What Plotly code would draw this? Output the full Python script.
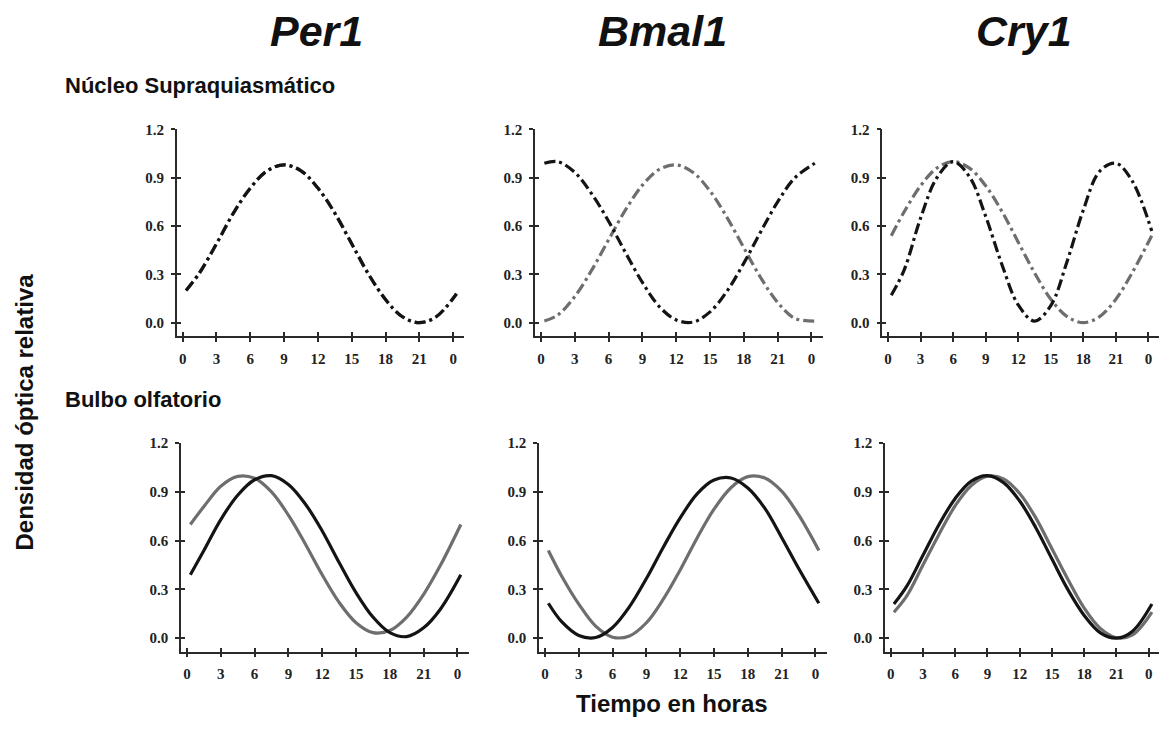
import plotly.graph_objects as go

# The page body adds an 8px margin around the figure; the figure is kept
# inside the page and every page position is shifted by that offset.
OFF = 8
W, H = 1157, 716
VISIBLE_RIGHT = 1160  # last page column that shows up in the photo


def fx(px):
    return (px - OFF) / W


def fy(py):
    return (H - (py - OFF)) / H


# ---------------- data ----------------
hours = [0.3, 1.5, 3, 4.5, 6, 7.5, 9, 10.5, 12, 13.5, 15, 16.5, 18, 19.5, 21, 22.5, 24.3]

genes = ["Per1", "Bmal1", "Cry1"]
row_labels = ["Núcleo Supraquiasmático", "Bulbo olfatorio"]

# Núcleo supraquiasmático (dash-dot lines)
per1_scn_black = [0.20, 0.31, 0.49, 0.68, 0.836, 0.943, 0.98, 0.943, 0.836, 0.68, 0.49, 0.30, 0.144, 0.037, 0.0, 0.037, 0.18]
per1_scn_gray = [0.20, 0.31, 0.49, 0.68, 0.836, 0.943, 0.98, 0.943, 0.836, 0.68, 0.49, 0.30, 0.144, 0.037, 0.0, 0.037, 0.18]
bmal1_scn_black = [0.99, 1.0, 0.933, 0.80, 0.63, 0.435, 0.25, 0.10, 0.017, 0.004, 0.067, 0.195, 0.37, 0.565, 0.75, 0.897, 0.99]
bmal1_scn_gray = [0.01, 0.048, 0.162, 0.326, 0.515, 0.70, 0.854, 0.952, 0.98, 0.932, 0.818, 0.654, 0.465, 0.279, 0.126, 0.028, 0.01]
cry1_scn_black = [0.17, 0.33, 0.65, 0.90, 1.0, 0.907, 0.66, 0.36, 0.11, 0.01, 0.106, 0.38, 0.70, 0.94, 0.99, 0.88, 0.57]
cry1_scn_gray = [0.54, 0.69, 0.85, 0.96, 1.0, 0.96, 0.85, 0.69, 0.50, 0.31, 0.146, 0.038, 0.0, 0.038, 0.146, 0.31, 0.54]

# Bulbo olfatorio (solid lines)
per1_ob_black = [0.39, 0.54, 0.73, 0.88, 0.975, 1.0, 0.946, 0.826, 0.66, 0.466, 0.28, 0.13, 0.034, 0.01, 0.064, 0.18, 0.39]
per1_ob_gray = [0.70, 0.81, 0.935, 0.996, 0.984, 0.90, 0.757, 0.58, 0.39, 0.22, 0.095, 0.034, 0.047, 0.13, 0.27, 0.45, 0.70]
bmal1_ob_black = [0.215, 0.10, 0.017, 0.004, 0.066, 0.194, 0.367, 0.56, 0.74, 0.888, 0.973, 0.986, 0.924, 0.80, 0.62, 0.43, 0.215]
bmal1_ob_gray = [0.54, 0.38, 0.21, 0.074, 0.006, 0.014, 0.095, 0.24, 0.42, 0.617, 0.794, 0.926, 0.994, 0.986, 0.905, 0.76, 0.54]
cry1_ob_black = [0.21, 0.32, 0.51, 0.70, 0.86, 0.967, 1.0, 0.957, 0.844, 0.68, 0.487, 0.297, 0.14, 0.033, 0.0, 0.043, 0.21]
cry1_ob_gray = [0.16, 0.26, 0.45, 0.64, 0.815, 0.94, 0.997, 0.98, 0.89, 0.74, 0.55, 0.36, 0.185, 0.06, 0.003, 0.02, 0.16]

y_tick_vals = [0.0, 0.3, 0.6, 0.9, 1.2]
x_tick_vals = [0, 3, 6, 9, 12, 15, 18, 21, 24]
x_tick_text = ["0", "3", "6", "9", "12", "15", "18", "21", "0"]

panels = [
    (per1_scn_black, per1_scn_gray, "dash"),
    (bmal1_scn_black, bmal1_scn_gray, "dash"),
    (cry1_scn_black, cry1_scn_gray, "dash"),
    (per1_ob_black, per1_ob_gray, "solid"),
    (bmal1_ob_black, bmal1_ob_gray, "solid"),
    (cry1_ob_black, cry1_ob_gray, "solid"),
]

# ---------------- layout geometry (page pixels) ----------------
x_start = -0.53
x_end_max = 25.0
top_y_range = [-0.085, 1.2]
bot_y_range = [-0.082, 1.2]
left_px = [176.7, 535.0, 882.3, 181.0, 539.0, 885.0]
px_per_h = [11.27, 11.27, 10.85, 11.27, 11.27, 10.75]
top_px = [(122.7, 332.0)] * 3 + [(440.0, 650.7)] * 3

BLACK = "#141414"
GRAY = "#6e6e6e"
AXIS = "#2a2a2a"
DASH = "11px,4px,3px,4px"
tick_font = dict(family="Liberation Serif, Times New Roman, serif", size=15, color="#222", weight="bold")

fig = go.Figure()
layout = dict(
    width=W, height=H,
    margin=dict(l=0, r=0, t=0, b=0),
    paper_bgcolor="white", plot_bgcolor="white",
    showlegend=False,
)

for i, (blk, gry, style) in enumerate(panels):
    n = i + 1
    on = n + 6
    xa = "x" if n == 1 else f"x{n}"
    ya = "y" if n == 1 else f"y{n}"
    pph = px_per_h[i]
    x_end = min(x_end_max, (VISIBLE_RIGHT - left_px[i]) / pph + x_start)
    right_px = left_px[i] + (x_end - x_start) * pph
    x0 = fx(left_px[i])
    x1 = min(fx(right_px), 1.0)
    ytop, ybot = top_px[i]
    yd0 = fy(ybot)
    yd1 = fy(ytop)
    yr = top_y_range if i < 3 else bot_y_range
    dash = DASH if style == "dash" else "solid"

    fig.add_trace(go.Scatter(x=hours, y=gry, mode="lines", xaxis=xa, yaxis=ya,
                             line=dict(color=GRAY, width=3.2, dash=dash, shape="spline", smoothing=1.0),
                             hoverinfo="skip"))
    fig.add_trace(go.Scatter(x=hours, y=blk, mode="lines", xaxis=xa, yaxis=ya,
                             line=dict(color=BLACK, width=3.2, dash=dash, shape="spline", smoothing=1.0),
                             hoverinfo="skip"))
    # empty trace to activate overlay axes (inner half of crossing ticks)
    fig.add_trace(go.Scatter(x=[None], y=[None], mode="lines", xaxis=f"x{on}", yaxis=f"y{on}",
                             hoverinfo="skip"))

    common_x = dict(domain=[x0, x1], range=[x_start, x_end], tickvals=x_tick_vals, ticktext=x_tick_text,
                    showgrid=False, zeroline=False, fixedrange=True)
    common_y = dict(domain=[yd0, yd1], range=yr, tickvals=y_tick_vals,
                    showgrid=False, zeroline=False, fixedrange=True)

    layout["xaxis" if n == 1 else f"xaxis{n}"] = dict(
        **common_x, anchor=ya, showline=True, linecolor=AXIS, linewidth=1.5,
        ticks="outside", ticklen=4, tickwidth=1.5, tickcolor=AXIS,
        tickfont=tick_font, ticklabelstandoff=4, ticklabeloverflow="allow")
    layout["yaxis" if n == 1 else f"yaxis{n}"] = dict(
        **common_y, anchor=xa, showline=True, linecolor=AXIS, linewidth=1.5,
        ticks="outside", ticklen=4, tickwidth=1.5, tickcolor=AXIS,
        tickfont=tick_font, tickformat=".1f", ticklabelstandoff=4)
    layout[f"xaxis{on}"] = dict(
        **common_x, anchor=f"y{on}", overlaying=xa, showline=False,
        ticks="inside", ticklen=4, tickwidth=1.5, tickcolor=AXIS, showticklabels=False)
    layout[f"yaxis{on}"] = dict(
        **common_y, anchor=f"x{on}", overlaying=ya, showline=False,
        ticks="inside", ticklen=4, tickwidth=1.5, tickcolor=AXIS, showticklabels=False)

title_font = dict(family="Liberation Sans, Arial, sans-serif", size=43, color="#111")
row_font = dict(family="Liberation Sans, Arial, sans-serif", size=22, color="#111")
axis_title_font = dict(family="Liberation Sans, Arial, sans-serif", size=24, color="#111")

gene_x_px = [316, 662, 1024]
annotations = []
for g, gx in zip(genes, gene_x_px):
    annotations.append(dict(text=f"<b><i>{g}</i></b>", x=fx(gx), y=fy(23), xref="paper", yref="paper",
                            xanchor="center", yanchor="middle", showarrow=False, font=title_font))
annotations.append(dict(text=f"<b>{row_labels[0]}</b>", x=fx(63), y=fy(78), xref="paper", yref="paper",
                        xanchor="left", yanchor="middle", showarrow=False, font=row_font))
annotations.append(dict(text=f"<b>{row_labels[1]}</b>", x=fx(63), y=fy(396), xref="paper", yref="paper",
                        xanchor="left", yanchor="middle", showarrow=False, font=row_font))
annotations.append(dict(text="<b>Densidad óptica relativa</b>", x=fx(25), y=fy(409), xref="paper", yref="paper",
                        xanchor="center", yanchor="middle", textangle=-90, showarrow=False, font=axis_title_font))
annotations.append(dict(text="<b>Tiempo en horas</b>", x=fx(672), y=fy(703), xref="paper", yref="paper",
                        xanchor="center", yanchor="middle", showarrow=False, font=axis_title_font))
layout["annotations"] = annotations

fig.update_layout(**layout)
fig.write_html("out.html")
